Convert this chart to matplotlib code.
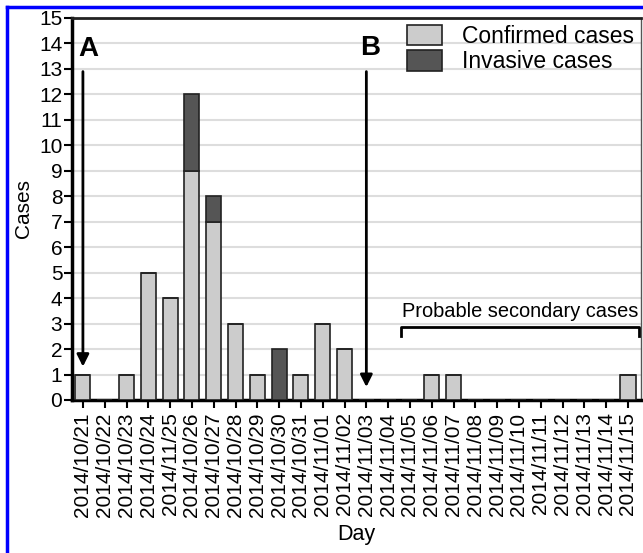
import matplotlib
matplotlib.use('Agg')
import matplotlib.pyplot as plt
from matplotlib.lines import Line2D
import numpy as np

plt.rcParams['font.family'] = ['Liberation Sans', 'DejaVu Sans']

days = ['2014/10/21', '2014/10/22', '2014/10/23', '2014/10/24', '2014/11/25',
        '2014/10/26', '2014/10/27', '2014/10/28', '2014/10/29', '2014/10/30',
        '2014/10/31', '2014/11/01', '2014/11/02', '2014/11/03', '2014/11/04',
        '2014/11/05', '2014/11/06', '2014/11/07', '2014/11/08', '2014/11/09',
        '2014/11/10', '2014/11/11', '2014/11/12', '2014/11/13', '2014/11/14',
        '2014/11/15']
confirmed = [1, 0, 1, 5, 4, 9, 7, 3, 1, 0, 1, 3, 2, 0, 0, 0, 1, 1, 0, 0, 0, 0, 0, 0, 0, 1]
invasive = [0, 0, 0, 0, 0, 3, 1, 0, 0, 2, 0, 0, 0, 0, 0, 0, 0, 0, 0, 0, 0, 0, 0, 0, 0, 0]

fig = plt.figure(figsize=(6.43, 5.53), dpi=100)
ax = fig.add_axes([0.112, 0.2767, 0.885, 0.691])

x = np.arange(len(days))
bar_width = 0.69

ax.bar(x, confirmed, width=bar_width, color='#cccccc', edgecolor='#222222',
       linewidth=1.2, label='Confirmed cases', zorder=3)
ax.bar(x, invasive, width=bar_width, bottom=confirmed, color='#555555',
       edgecolor='#222222', linewidth=1.2, label='Invasive cases', zorder=3)

ax.set_xlim(-0.5, 25.6)
ax.set_ylim(0, 15)
ax.set_yticks(range(0, 16))
ax.set_xticks(x)
ax.set_xticklabels(days, rotation=90, fontsize=15)
ax.tick_params(axis='y', labelsize=15, pad=1)
ax.tick_params(axis='x', pad=3)
ax.tick_params(direction='out', length=6, width=1.5, color='black')
ax.yaxis.grid(True, color='#dddddd', linewidth=1.5, zorder=0)
ax.set_axisbelow(True)

for s in ['left', 'bottom']:
    ax.spines[s].set_linewidth(2.5)
ax.spines['top'].set_linewidth(2)
ax.spines['top'].set_color('#222222')
ax.spines['right'].set_linewidth(1)
ax.spines['right'].set_color('#555555')

ax.set_ylabel('Cases', fontsize=15, labelpad=4)
ax.set_xlabel('Day', fontsize=15.5, labelpad=5)

# 箭头 A 和 B
arrow = dict(arrowstyle='-|>', color='black', lw=2, mutation_scale=18)
ax.annotate('', xy=(0, 1.2), xytext=(0, 13), arrowprops=arrow, zorder=5)
ax.annotate('', xy=(13, 0.4), xytext=(13, 13), arrowprops=arrow, zorder=5)
ax.text(-0.2, 13.5, 'A', fontsize=20, fontweight='bold', ha='left', va='baseline')
ax.text(13.17, 13.55, 'B', fontsize=20, fontweight='bold', ha='center', va='baseline')

# 括号
ax.plot([14.6, 14.6, 25.5, 25.5], [2.5, 2.88, 2.88, 2.5], color='black', lw=2,
        clip_on=False, zorder=4)
ax.text(20.05, 3.1, 'Probable secondary cases', fontsize=14.4, ha='center', va='bottom')

leg = ax.legend(loc='upper right', frameon=False, fontsize=16.5,
                handlelength=1.5, handleheight=1.0, borderaxespad=0.1,
                borderpad=0.2, labelspacing=0.1, handletextpad=0.9)

# 蓝色边框
fig.add_artist(Line2D([7 / 643, 7 / 643], [0, 1 - 7 / 553], color='blue', lw=2.5))
fig.add_artist(Line2D([7 / 643, 1], [1 - 7 / 553, 1 - 7 / 553], color='blue', lw=2.5))

fig.savefig('out.png', dpi=100)
